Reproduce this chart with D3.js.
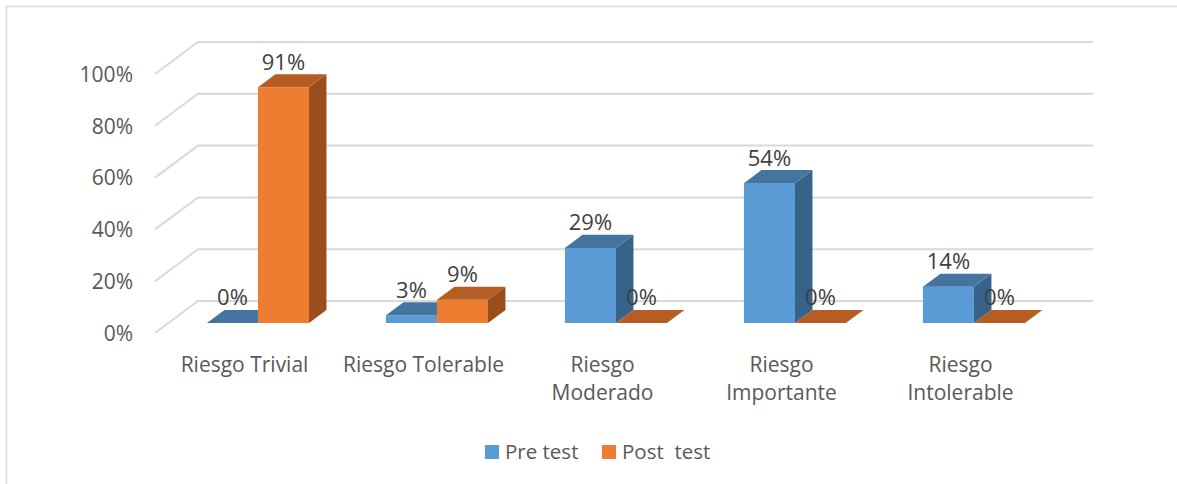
<!DOCTYPE html>
<html>
<head>
<meta charset="utf-8">
<script src="https://cdn.jsdelivr.net/npm/d3@7"></script>
<style>
  html, body { margin: 0; padding: 0; background: #fff; }
  svg { display: block; font-family: "Open Sans", sans-serif; }
</style>
</head>
<body>
<svg id="chart" width="1177" height="484"></svg>
<script>
// Risk levels and the share of each level before and after the intervention
const categories = ["Riesgo Trivial", "Riesgo Tolerable", "Riesgo Moderado", "Riesgo Importante", "Riesgo Intolerable"];
const seriesNames = ["Pre test", "Post  test"];
const preTest = [0, 0.03, 0.29, 0.54, 0.14];
const postTest = [0.91, 0.09, 0, 0, 0];
const yTicks = [0, 0.2, 0.4, 0.6, 0.8, 1.0];

const colors = {
  "Pre test":   { front: "#5B9BD5", top: "#44759F", side: "#37628A" },
  "Post  test": { front: "#ED7D31", top: "#B55D23", side: "#9A4E1D" }
};

const svg = d3.select("#chart");

// Outer frame of the chart area
svg.append("rect")
  .attr("x", 6.5).attr("y", 6.5)
  .attr("width", 1300).attr("height", 700)
  .attr("fill", "#fff").attr("stroke", "#D9D9D9").attr("stroke-width", 1.5);

// 3D geometry: front plane, plus the floor depth offset
const frontLeft = 155, frontRight = 1050;
const depthX = 43, depthY = -32;
const barDepth0 = 0.3125, barDepth1 = 0.72;   // bars sit in the middle of the depth

const x0 = d3.scaleBand().domain(categories).range([frontLeft, frontRight]);
const x1 = d3.scaleBand().domain(seriesNames).range([0, x0.bandwidth()]).paddingOuter(0.755);
const y = d3.scaleLinear().domain([0, 1]).range([333, 74]);

// Gridlines: slanted on the side wall, horizontal across the back wall
const grid = svg.append("g");
yTicks.forEach(t => {
  const yf = y(t), yb = y(t) + depthY;
  grid.append("path")
    .attr("d", `M${frontLeft},${yf}L${frontLeft + depthX},${yb}L${frontRight + depthX},${yb}`)
    .attr("fill", "none").attr("stroke", "#D9D9D9").attr("stroke-width", 2);
});

// Value axis labels
const yAxis = d3.axisLeft(y).tickValues(yTicks).tickFormat(d3.format(".0%")).tickSize(0).tickPadding(0);
const yg = svg.append("g").attr("transform", "translate(133,0)").call(yAxis);
yg.select(".domain").remove();
yg.selectAll("text").attr("fill", "#595959").attr("font-size", 21)
  .attr("font-family", "Open Sans, sans-serif").attr("dy", "0.35em");

// Category axis labels, wrapped when wider than the slot
const xAxis = d3.axisBottom(x0).tickSize(0).tickPadding(0);
const xg = svg.append("g").attr("transform", "translate(0,352)").call(xAxis);
xg.select(".domain").remove();
xg.selectAll("text")
  .attr("fill", "#595959").attr("font-size", 21).attr("font-family", "Open Sans, sans-serif")
  .attr("dy", null).attr("y", 20)
  .each(function(d) {
    const t = d3.select(this);
    if (this.getComputedTextLength() > 166) {
      const words = d.split(" ");
      t.text(null);
      words.forEach((w, i) => {
        t.append("tspan").attr("x", 0).attr("y", 20 + i * 28).text(w);
      });
    }
  });

// Bars
const rows = categories.map((c, i) => ({
  category: c,
  values: [
    { series: "Pre test", value: preTest[i] },
    { series: "Post  test", value: postTest[i] }
  ]
}));

const bx = depthX * barDepth0, by = depthY * barDepth0;
const ddx = depthX * (barDepth1 - barDepth0), ddy = depthY * (barDepth1 - barDepth0);
const bw = x1.bandwidth();

const bars = svg.append("g");
const labels = [];
rows.forEach(row => {
  row.values.forEach(v => {
    const xl = x0(row.category) + x1(v.series) + bx;
    const xr = xl + bw;
    const yBase = y(0) + by;
    const yTop = y(v.value) + by;
    const c = colors[v.series];
    const g = bars.append("g");
    if (yBase - yTop > 0.01) {
      g.append("rect").attr("x", xl).attr("y", yTop).attr("width", bw).attr("height", yBase - yTop)
        .attr("fill", c.front);
      g.append("path")
        .attr("d", `M${xr},${yBase}L${xr + ddx},${yBase + ddy}L${xr + ddx},${yTop + ddy}L${xr},${yTop}Z`)
        .attr("fill", c.side);
    }
    g.append("path")
      .attr("d", `M${xl},${yTop}L${xr},${yTop}L${xr + ddx},${yTop + ddy}L${xl + ddx},${yTop + ddy}Z`)
      .attr("fill", c.top);
    labels.push({ x: (xl + xr) / 2, y: yTop + ddy - 4.5, value: v.value });
  });
});

// Data labels
svg.append("g").selectAll("text").data(labels).join("text")
  .attr("x", d => d.x).attr("y", d => d.y)
  .attr("text-anchor", "middle")
  .attr("fill", "#404040").attr("font-size", 22)
  .text(d => d3.format(".0%")(d.value));

// Legend
const legend = svg.append("g");
const legendX = [485, 602];
seriesNames.forEach((s, i) => {
  legend.append("rect").attr("x", legendX[i]).attr("y", 445).attr("width", 14).attr("height", 14)
    .attr("fill", colors[s].front);
  legend.append("text").attr("x", legendX[i] + 20).attr("y", 459)
    .attr("fill", "#595959").attr("font-size", 20.5)
    .style("white-space", "pre").attr("xml:space", "preserve")
    .text(s);
});
</script>
</body>
</html>
